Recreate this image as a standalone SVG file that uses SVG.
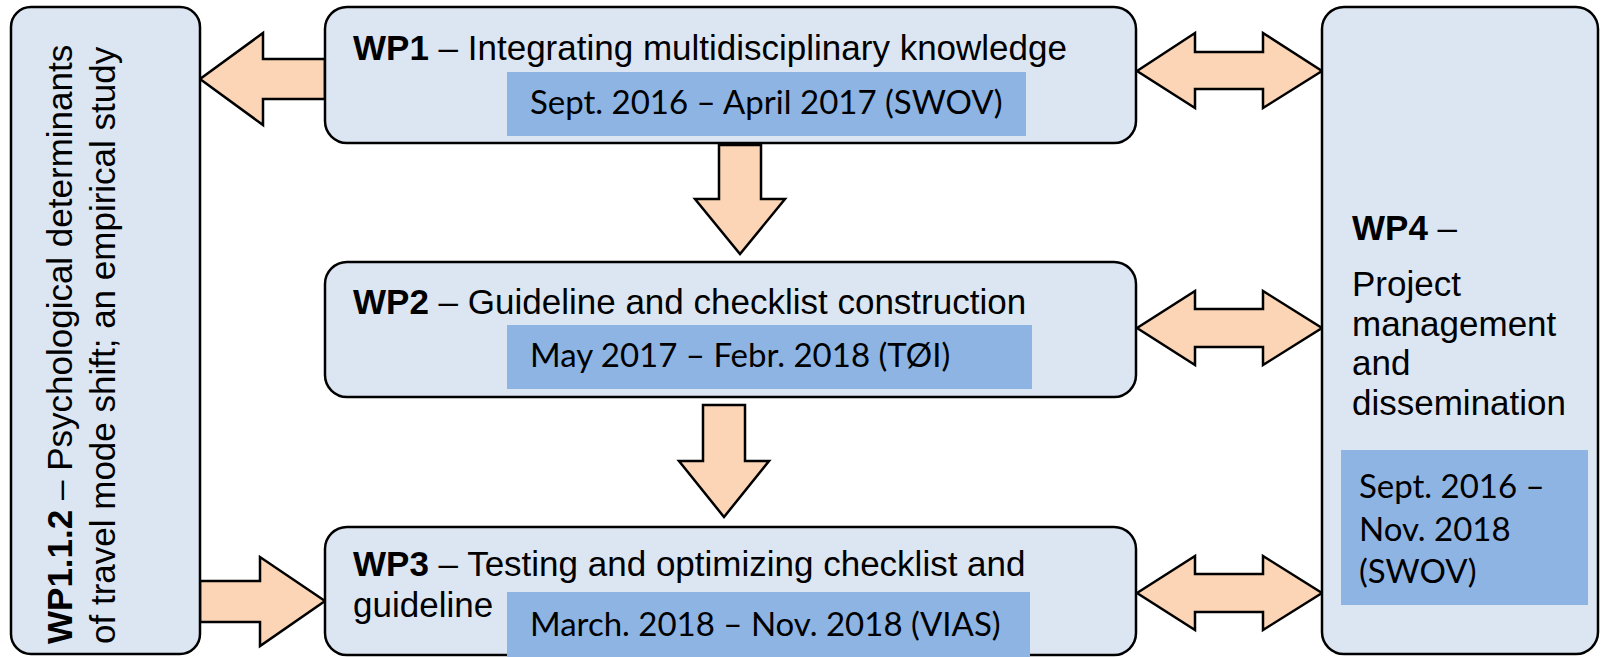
<svg xmlns="http://www.w3.org/2000/svg" width="1602" height="657" viewBox="0 0 1602 657">
<style>
.box{fill:#DCE6F2;stroke:#000;stroke-width:2.5}
.date{fill:#8EB4E3}
.arr{fill:#FBD5B5;stroke:#000;stroke-width:2.5;stroke-linejoin:miter}
.t{font-family:"Liberation Sans",Arial,sans-serif;font-size:35px;fill:#000}
.b{font-weight:bold}
.d{font-family:Lato,"Open Sans",sans-serif;font-size:33px;fill:#000}
</style>
<rect width="1602" height="657" fill="#fff"/>
<g id="connectors">
<polygon class="arr" points="325,59 263,59 263,33 200,79 263,125 263,99 325,99"/>
<polygon class="arr" points="200,581 260,581 260,557 325,601 260,646 260,622 200,622"/>
<polygon class="arr" points="719,145 761,145 761,199 785,199 740,254 695,199 719,199"/>
<polygon class="arr" points="703,405 745,405 745,461 769,461 724,517 679,461 703,461"/>
<polygon class="arr" points="1137,71 1195,33 1195,52 1263,52 1263,33 1322,71 1263,108 1263,89 1195,89 1195,108"/>
<polygon class="arr" points="1137,328 1195,291 1195,309 1263,309 1263,291 1322,328 1263,365 1263,347 1195,347 1195,365"/>
<polygon class="arr" points="1137,593 1195,556 1195,574 1263,574 1263,556 1322,593 1263,630 1263,612 1195,612 1195,630"/>
</g>
<g id="wp112">
<rect class="box" x="11" y="7" width="189" height="647" rx="20"/>
<text class="t" transform="translate(72,644) rotate(-90)"><tspan class="b">WP1.1.2</tspan> – Psychological determinants</text>
<text class="t" transform="translate(115,644) rotate(-90)">of travel mode shift; an empirical study</text>
</g>
<g id="wp1">
<rect class="box" x="325" y="7" width="811" height="136" rx="22"/>
<rect class="date" x="507" y="72" width="519" height="64"/>
<text class="t" x="353" y="60"><tspan class="b">WP1</tspan> – Integrating multidisciplinary knowledge</text>
<text class="d" x="530" y="114">Sept. 2016 – April 2017 (SWOV)</text>
</g>
<g id="wp2">
<rect class="box" x="325" y="262" width="811" height="135" rx="22"/>
<rect class="date" x="507" y="325" width="525" height="64"/>
<text class="t" x="353" y="314"><tspan class="b">WP2</tspan> – Guideline and checklist construction</text>
<text class="d" x="530" y="367">May 2017 – Febr. 2018 (TØI)</text>
</g>
<g id="wp3">
<rect class="box" x="325" y="527" width="811" height="128" rx="22"/>
<rect class="date" x="507" y="592" width="523" height="65"/>
<text class="t" x="353" y="576"><tspan class="b">WP3</tspan> – Testing and optimizing checklist and</text>
<text class="t" x="353" y="617">guideline</text>
<text class="d" x="530" y="636">March. 2018 – Nov. 2018 (VIAS)</text>
</g>
<g id="wp4">
<rect class="box" x="1322" y="7" width="276" height="647" rx="22"/>
<rect class="date" x="1341" y="450" width="247" height="155"/>
<text class="t" x="1352" y="240"><tspan class="b">WP4</tspan> –</text>
<text class="t" x="1352" y="296">Project</text>
<text class="t" x="1352" y="336">management</text>
<text class="t" x="1352" y="375">and</text>
<text class="t" x="1352" y="415">dissemination</text>
<text class="d" x="1359" y="498">Sept. 2016 –</text>
<text class="d" x="1359" y="541">Nov. 2018</text>
<text class="d" x="1359" y="583">(SWOV)</text>
</g>
</svg>
